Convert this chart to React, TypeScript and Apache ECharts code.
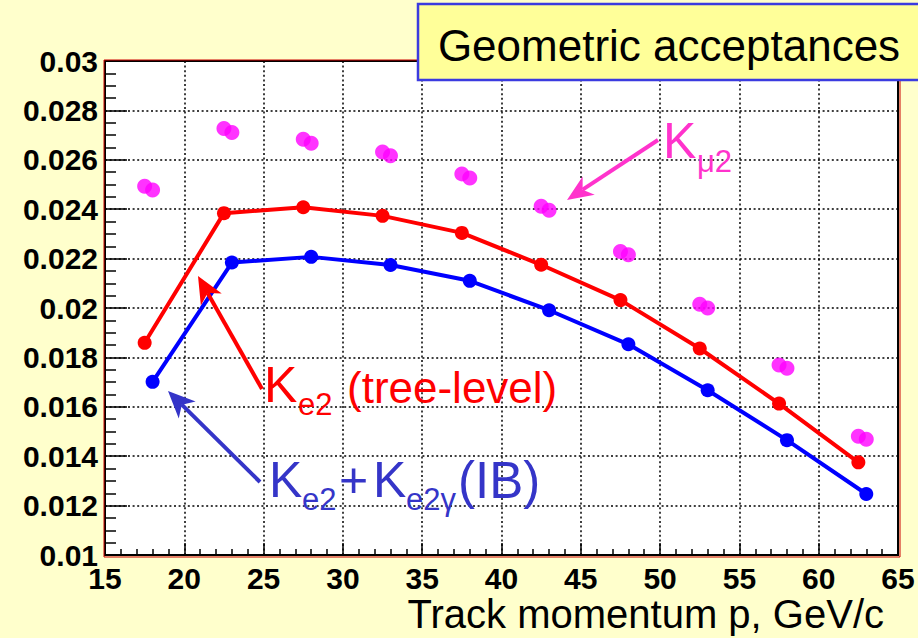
import React, { useEffect, useRef } from "react";
import * as echarts from "echarts";

// Track momentum positions (GeV/c)
const xTree = [17.5, 22.5, 27.5, 32.5, 37.5, 42.5, 47.5, 52.5, 57.5, 62.5];
const xIB = [18, 23, 28, 33, 38, 43, 48, 53, 58, 63];
// Geometric acceptances
const ke2Tree = [0.01859, 0.02384, 0.02408, 0.02373, 0.02304, 0.02175, 0.02032, 0.01836, 0.01613, 0.01375];
const ke2IB = [0.01701, 0.02184, 0.02207, 0.02174, 0.0211, 0.01991, 0.01853, 0.01667, 0.01465, 0.01247];
const kmu2A = [0.02493, 0.02727, 0.02683, 0.02632, 0.02543, 0.02412, 0.02229, 0.02015, 0.01769, 0.01481];
const kmu2B = [0.02478, 0.02711, 0.02667, 0.02616, 0.02526, 0.02396, 0.02216, 0.02, 0.01756, 0.01469];

const FONT = '"Liberation Sans", Arial, sans-serif';

function pairs(xs: number[], ys: number[]) {
  return xs.map((x, i) => [x, ys[i]]);
}

function arrow(x1: number, y1: number, x2: number, y2: number, color: string, w: number, hl: number, hh: number) {
  const dx = x2 - x1, dy = y2 - y1;
  const L = Math.hypot(dx, dy);
  const ux = dx / L, uy = dy / L;
  const px = -uy, py = ux;
  const bx = x2 - ux * hl, by = y2 - uy * hl;
  const nx = x2 - ux * hl * 0.72, ny = y2 - uy * hl * 0.72;
  return [
    { type: "line", z: 50, shape: { x1, y1, x2: nx, y2: ny }, style: { stroke: color, lineWidth: w } },
    {
      type: "polygon", z: 50,
      shape: { points: [[x2, y2], [bx + px * hh, by + py * hh], [nx, ny], [bx - px * hh, by - py * hh]] },
      style: { fill: color },
    },
  ];
}

function txt(text: string, x: number, y: number, size: number, color: string, align = "left") {
  return {
    type: "text", z: 60,
    style: {
      text, x, y, fill: color,
      font: `${size}px ${FONT}`,
      textAlign: align, textVerticalAlign: "middle",
      align, verticalAlign: "middle",
    },
  };
}

export default function App() {
  const ref = useRef<HTMLDivElement>(null);
  useEffect(() => {
    const chart = echarts.init(ref.current!, null, { renderer: "svg" });
    const red = "#ff0000", blue = "#0000ff", mag = "#ff00ff";
    const redA = "#ff0000", blueA = "#3535c8", magA = "#ff33cc";
    const splitLine = { show: true, lineStyle: { color: "#000", type: [2, 2.6], width: 1.5 } };
    const option: any = {
      animation: false,
      backgroundColor: "#ffffcc",
      grid: {
        left: 105, top: 61, right: 20, bottom: 83,
        show: true, backgroundColor: "#ffffff", borderColor: "#000", borderWidth: 2,
      },
      xAxis: {
        type: "value", min: 15, max: 65, interval: 5,
        axisLine: { show: true, lineStyle: { color: "#000", width: 2 } },
        axisTick: { show: true, inside: true, length: 12, lineStyle: { color: "#000", width: 1.5 } },
        minorTick: { show: true, splitNumber: 5, length: 6, lineStyle: { color: "#000", width: 1.5 } },
        axisLabel: { color: "#000", fontSize: 30, fontWeight: "bold", fontFamily: FONT, margin: 8 },
        splitLine,
      },
      yAxis: {
        type: "value", min: 0.01, max: 0.03, interval: 0.002,
        axisLine: { show: true, lineStyle: { color: "#000", width: 2 } },
        axisTick: { show: true, inside: true, length: 22, lineStyle: { color: "#000", width: 1.5 } },
        minorTick: { show: true, splitNumber: 4, length: 11, lineStyle: { color: "#000", width: 1.5 } },
        axisLabel: {
          color: "#000", fontSize: 30, fontWeight: "bold", fontFamily: FONT, margin: 7,
          formatter: (v: number) => parseFloat(v.toFixed(3)).toString(),
        },
        splitLine,
      },
      series: [
        {
          type: "scatter", data: pairs(xTree, kmu2A), symbol: "circle", symbolSize: 15,
          itemStyle: { color: mag }, z: 3,
        },
        {
          type: "scatter", data: pairs(xIB, kmu2B), symbol: "circle", symbolSize: 15,
          itemStyle: { color: mag }, z: 3,
        },
        {
          type: "line", data: pairs(xTree, ke2Tree), symbol: "circle", symbolSize: 14, showSymbol: true,
          lineStyle: { color: red, width: 4 }, itemStyle: { color: red }, z: 4,
        },
        {
          type: "line", data: pairs(xIB, ke2IB), symbol: "circle", symbolSize: 14, showSymbol: true,
          lineStyle: { color: blue, width: 4 }, itemStyle: { color: blue }, z: 4,
        },
      ],
      graphic: [
        { type: "rect", z: 40, shape: { x: 104, y: 60, width: 796, height: 497 }, style: { fill: "none", stroke: "#cc0000", lineWidth: 1 } },
        // Title box
        { type: "rect", z: 55, shape: { x: 418, y: 4, width: 520, height: 76 }, style: { fill: "#ffff99", stroke: "#3b3be0", lineWidth: 2.5 } },
        txt("Geometric acceptances", 669, 45, 44, "#000", "center"),
        // Kmu2 label
        ...arrow(658, 140, 567, 200, magA, 4, 26, 11),
        txt("K", 663, 141, 50, magA),
        txt("μ2", 697, 161, 31, magA),
        // Ke2 tree-level label
        ...arrow(262, 389, 198, 276, redA, 4, 27, 12),
        txt("K", 264, 385, 50, redA),
        txt("e2", 298, 404, 31, redA),
        txt("(tree-level)", 347, 387, 44, redA),
        // Ke2 + Ke2gamma label
        ...arrow(260, 482, 168, 391, blueA, 4, 27, 12),
        txt("K", 269, 480, 50, blueA),
        txt("e2", 302, 499, 31, blueA),
        txt("+", 339, 480, 50, blueA),
        txt("K", 373, 480, 50, blueA),
        txt("e2γ", 406, 499, 31, blueA),
        txt("(IB)", 458, 480, 51, blueA),
        // x-axis title
        txt("Track momentum p, GeV/c", 884, 614, 40, "#000", "right"),
      ],
    };
    chart.setOption(option);
    return () => chart.dispose();
  }, []);
  return (
    <div
      ref={ref}
      style={{ position: "absolute", left: 0, top: 0, width: 918, height: 638 }}
    />
  );
}
